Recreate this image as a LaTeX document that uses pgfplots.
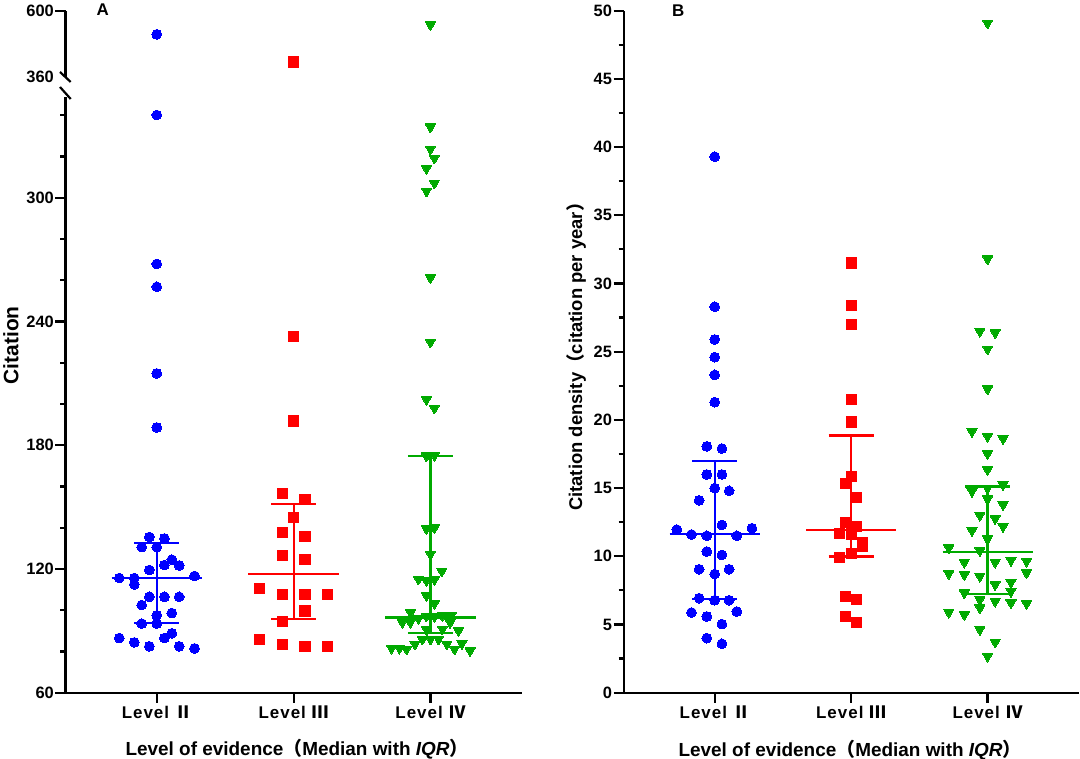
\documentclass[border=0pt]{standalone}
\usepackage{pgfplots}
\pgfplotsset{compat=1.18}
\usepackage{fontspec}
\setmainfont{Liberation Sans}
\newfontfamily\cjk{Noto Sans CJK SC}
\definecolor{cB}{RGB}{0,0,255}
\definecolor{cR}{RGB}{255,0,0}
\definecolor{cG}{RGB}{0,170,0}
\pgfplotsset{
  base/.style={
    scale only axis, clip=false,
    width=456.2bp,
    xmin=0.333, xmax=3.667,
    axis line style={line width=2.2bp, black},
    tick style={line width=2.2bp, black},
    major tick length=10bp, minor tick length=5bp,
    tick align=outside,
    /pgf/number format/assume math mode=true,
    yticklabel style={font=\fontsize{16.5}{16.5}\selectfont\bfseries, inner xsep=1.5bp},
    xticklabel style={font=\fontsize{17}{17}\selectfont\bfseries\addfontfeature{LetterSpace=6}},
    label style={font=\fontsize{19}{19}\selectfont\bfseries},
    xtick={1,2,3},
    xticklabels={Level {\cjk Ⅱ},Level {\cjk Ⅲ},Level {\cjk Ⅳ}},
  },
  ptB/.style={only marks, mark=*, mark size=4.9bp, color=cB, mark options={line width=0pt}},
  ptR/.style={only marks, mark=square*, mark size=5.1bp, color=cR, mark options={line width=0pt}},
  ptG/.style={only marks, mark=triangle*, mark size=5.9bp, color=cG, mark options={rotate=180, line width=0pt}},
  eb/.style={line width=2.2bp, no marks},
}
\begin{document}
\begin{tikzpicture}
\useasboundingbox (0bp,0bp) rectangle (1080bp,759bp);

% ---------- Panel A, lower part ----------
\begin{axis}[base,
  at={(65.5bp,66.3bp)}, anchor=south west,
  height=596bp,
  ymin=60, ymax=348.97,
  axis y line*=left, axis x line*=bottom,
  ytick={60,120,180,240,300},
  minor ytick={80,100,140,160,200,220,260,280,320,340},
  ylabel={Citation},
  ylabel style={at={(axis description cs:-0.1195,0.583)}, anchor=center, font=\fontsize{21}{21}\selectfont\bfseries},
  xlabel={Level of evidence{\cjk （}Median with \textit{IQR}{\cjk ）}},
  xlabel style={at={(axis description cs:0.5075,-0.0956)}, anchor=center},
]
\addplot[ptB] coordinates {
(1,340.1) (1,267.9) (1,256.8) (1,214.8) (1,188.6)
(0.946,135.5) (1.056,134.8) (0.890,130.6) (1,130.6) (1.110,124.5)
(1.056,121.9) (1.164,121.7) (0.946,119.5) (0.726,115.6) (0.836,115.6)
(1.276,116.6) (0.836,112.5) (0.946,106.5) (1.056,106.5) (1.164,106.5)
(0.890,102.5) (1.110,98.6) (1,97.5) (0.890,93.5) (1,93.5)
(1.110,88.8) (1.056,86.5) (0.726,86.5) (0.836,84.4) (0.946,82.5)
(1.164,82.5) (1.276,81.5)
};
\addplot[ptR] coordinates {
(2,232.8) (2,191.7) (1.917,156.6) (2.083,153.6) (2,144.8)
(1.917,137.6) (2.083,135.6) (1.917,126.6) (2.083,124.6) (1.751,110.6)
(1.917,107.7) (2.083,107.7) (2.247,107.7) (2.083,99.6) (1.917,94.6)
(1.751,85.6) (1.917,83.4) (2.083,82.5) (2.247,82.5)
};
\addplot[ptG] coordinates {
(3,334.3) (3,323.6) (3.029,319.2) (2.971,314.2) (3.029,307.1) (2.971,303.2)
(3,261.2) (3,230.0) (2.971,202.2) (3.029,198.0) (2.971,174.8) (3.029,175.1)
(2.971,139.5) (3.029,140.0) (3,127.2) (3.083,119.0)
(2.912,115.1) (2.971,114.4) (3.029,114.9) (2.971,107.1) (3.029,103.3)
(2.855,98.9) (2.912,96.0) (2.971,97.2) (3.029,97.0) (3.088,97.3) (3.151,97.3)
(2.795,94.1) (2.853,94.1) (3.144,94.1)
(2.973,90.5) (3.088,90.9) (3.205,90.1)
(2.941,86.0) (3,86.0) (3.059,86.0)
(2.887,83.6) (3.120,83.6) (3.230,83.9)
(2.716,81.6) (2.773,81.6) (2.826,81.2) (3.176,81.2) (3.290,80.4)
};
% median with IQR
\addplot[eb, cB] coordinates {(0.67,115.6) (1.33,115.6)};
\addplot[eb, cB] coordinates {(1,93.6) (1,132.6)};
\addplot[eb, cB] coordinates {(0.835,132.6) (1.165,132.6)};
\addplot[eb, cB] coordinates {(0.835,93.6) (1.165,93.6)};
\addplot[eb, cR] coordinates {(1.67,117.7) (2.33,117.7)};
\addplot[eb, cR] coordinates {(2,95.9) (2,151.5)};
\addplot[eb, cR] coordinates {(1.835,151.5) (2.165,151.5)};
\addplot[eb, cR] coordinates {(1.835,95.9) (2.165,95.9)};
\addplot[eb, cG] coordinates {(2.67,96.5) (3.33,96.5)};
\addplot[eb, cG] coordinates {(3,88.8) (3,174.7)};
\addplot[eb, cG] coordinates {(2.835,174.7) (3.165,174.7)};
\addplot[eb, cG] coordinates {(2.835,88.8) (3.165,88.8)};
\end{axis}

% ---------- Panel A, upper part ----------
\begin{axis}[base,
  at={(65.5bp,682bp)}, anchor=south west,
  height=66.3bp,
  ymin=360, ymax=600,
  axis y line*=left, axis x line=none,
  ytick={600},
  extra y ticks={360},
  extra y tick style={tick style={draw=none}},
]
\addplot[ptB] coordinates {(1,514.6)};
\addplot[ptR] coordinates {(2,414)};
\addplot[ptG] coordinates {(3,549)};
\node[font=\fontsize{17}{17}\selectfont\bfseries] at (rel axis cs:0.0815,1.018) {A};
\end{axis}

% axis break marks
\draw[line width=2.2bp] (60bp,687bp) -- (70.7bp,677bp);
\draw[line width=2.2bp] (60bp,672bp) -- (70.7bp,660bp);

% ---------- Panel B ----------
\begin{axis}[base,
  at={(623.7bp,66.3bp)}, anchor=south west,
  width=454.8bp, height=682bp,
  ymin=0, ymax=50,
  axis y line*=left, axis x line*=bottom,
  ytick={0,5,...,50},
  minor ytick={2.5,7.5,...,47.5},
  ylabel={Citation density{\cjk （}citation per year{\cjk ）}},
  ylabel style={at={(axis description cs:-0.1049,0.4993)}, anchor=center, font=\fontsize{18.5}{18.5}\selectfont\bfseries},
  xlabel={Level of evidence{\cjk （}Median with \textit{IQR}{\cjk ）}},
  xlabel style={at={(axis description cs:0.4976,-0.0836)}, anchor=center},
]
\addplot[ptB] coordinates {
(1,39.3) (1,28.3) (1,25.9) (1,24.6) (1,23.3) (1,21.3)
(0.942,18.06) (1.053,17.9) (0.942,16.0) (1.053,16.0) (1,15.0) (1.106,14.8)
(0.886,14.1) (1.053,12.3) (0.722,11.96) (1.273,12.06) (0.830,11.6) (0.942,11.5)
(1.162,11.5) (0.942,10.35) (1.053,10.1) (0.886,9.05) (1.106,9.05) (1,8.7)
(0.886,6.93) (1,6.78) (1.106,6.78) (0.830,5.88) (1.162,5.95) (0.942,5.59)
(1.053,5.03) (0.942,4.0) (1.053,3.59)
};
\addplot[ptR] coordinates {
(2,31.5) (2,28.4) (2,27.0) (2,21.5) (2,19.85) (2,15.87) (1.959,15.33)
(2.041,14.3) (1.959,12.5) (2.041,12.2) (1.916,11.67) (2,11.64) (2.084,10.98)
(2.084,10.74) (2,10.2) (1.916,9.89) (1.959,7.08) (2.041,6.83) (1.959,5.59) (2.041,5.13)
};
\addplot[ptG] coordinates {
(3,49.1) (3,31.8) (2.944,26.5) (3.056,26.4) (3,25.2) (3,22.27)
(2.886,19.16) (3,18.8) (3.114,18.63) (3,17.53) (3,16.36) (3.114,15.26) (3,15.0)
(2.886,14.77) (3,14.21) (3.114,13.79) (2.944,13.01) (3.056,12.77) (3.114,12.2)
(2.886,11.89) (3,11.28) (2.716,10.62) (2.944,10.42) (2.830,9.57) (3.056,9.57)
(3.172,9.71) (3.286,9.64) (3.286,8.79) (2.716,8.74) (2.830,8.66) (2.944,8.54)
(3.056,7.93) (3.172,8.1) (3.172,7.44) (2.830,7.32) (2.944,6.83) (3.056,6.71)
(3.172,6.59) (3.286,6.54) (2.944,6.22) (2.716,5.9) (2.830,5.73) (2.944,4.64)
(3.056,3.71) (3,2.68)
};
\addplot[eb, cB] coordinates {(0.67,11.64) (1.33,11.64)};
\addplot[eb, cB] coordinates {(1,6.88) (1,17.0)};
\addplot[eb, cB] coordinates {(0.835,17.0) (1.165,17.0)};
\addplot[eb, cB] coordinates {(0.835,6.88) (1.165,6.88)};
\addplot[eb, cR] coordinates {(1.67,11.94) (2.33,11.94)};
\addplot[eb, cR] coordinates {(2,9.98) (2,18.85)};
\addplot[eb, cR] coordinates {(1.835,18.85) (2.165,18.85)};
\addplot[eb, cR] coordinates {(1.835,9.98) (2.165,9.98)};
\addplot[eb, cG] coordinates {(2.67,10.33) (3.33,10.33)};
\addplot[eb, cG] coordinates {(3,7.25) (3,15.11)};
\addplot[eb, cG] coordinates {(2.835,15.11) (3.165,15.11)};
\addplot[eb, cG] coordinates {(2.835,7.25) (3.165,7.25)};
\node[font=\fontsize{17}{17}\selectfont\bfseries] at (rel axis cs:0.12,1.0) {B};
\end{axis}
\end{tikzpicture}
\end{document}
